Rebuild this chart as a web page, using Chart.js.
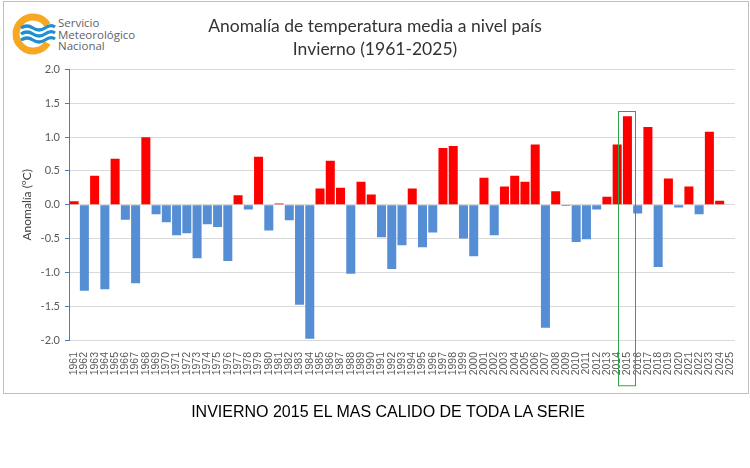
<!DOCTYPE html>
<html>
<head>
<meta charset="utf-8">
<script src="https://cdn.jsdelivr.net/npm/chart.js@4.4.1/dist/chart.umd.min.js"></script>
<style>
  body { margin: 0; background: #fff; }
  #wrap { position: relative; width: 750px; height: 468px; }
  #frame { position: absolute; left: 3px; top: 1px; width: 744px; height: 391px; border: 1px solid #bfbfbf; }
  #chart { position: absolute; left: 0; top: 0; }
  #logo { position: absolute; left: 11px; top: 12px; }
  #logoText { position: absolute; left: 58px; top: 17px; font: 11.5px 'Open Sans', sans-serif; line-height: 11.5px; color: #5f6368; }
  #caption { position: absolute; left: 0; width: 776px; top: 403px; text-align: center; font: 16px 'Liberation Sans', Arial, sans-serif; color: #000; }
</style>
</head>
<body>
<div id="wrap">
  <div id="frame"></div>
  <svg id="logo" width="46" height="44" viewBox="0 0 46 44">
    <path d="M36.5 13 A17 17 0 1 0 36.5 31" fill="none" stroke="#f7a823" stroke-width="7"/>
    <path d="M10 16 q6 -4 12 0 t12 0 t10 -1" fill="none" stroke="#1f8fd0" stroke-width="3.2"/>
    <path d="M10 22 q6 -4 12 0 t12 0 t10 -1" fill="none" stroke="#1f8fd0" stroke-width="3.2"/>
    <path d="M10 28 q6 -4 12 0 t12 0 t10 -1" fill="none" stroke="#1f8fd0" stroke-width="3.2"/>
  </svg>
  <div id="logoText">Servicio<br>Meteorológico<br>Nacional</div>
  <canvas id="chart" width="750" height="468"></canvas>
  <div id="caption">INVIERNO 2015 EL MAS CALIDO DE TODA LA SERIE</div>
</div>
<script>
const years = ['1961','1962','1963','1964','1965','1966','1967','1968','1969','1970',
  '1971','1972','1973','1974','1975','1976','1977','1978','1979','1980',
  '1981','1982','1983','1984','1985','1986','1987','1988','1989','1990',
  '1991','1992','1993','1994','1995','1996','1997','1998','1999','2000',
  '2001','2002','2003','2004','2005','2006','2007','2008','2009','2010',
  '2011','2012','2013','2014','2015','2016','2017','2018','2019','2020',
  '2021','2022','2023','2024','2025'];

const anomalia = [0.05, -1.27, 0.43, -1.25, 0.68, -0.22, -1.16, 1.00, -0.14, -0.26,
  -0.45, -0.42, -0.79, -0.29, -0.33, -0.83, 0.14, -0.07, 0.71, -0.38,
  0.02, -0.23, -1.48, -1.98, 0.24, 0.65, 0.25, -1.02, 0.34, 0.15,
  -0.48, -0.95, -0.60, 0.24, -0.63, -0.41, 0.84, 0.87, -0.50, -0.76,
  0.40, -0.45, 0.27, 0.43, 0.34, 0.89, -1.82, 0.20, -0.02, -0.55,
  -0.51, -0.07, 0.12, 0.89, 1.31, -0.13, 1.15, -0.92, 0.39, -0.04,
  0.27, -0.14, 1.08, 0.06, null];

const highlightYear = '2015';

// green box around the warmest winter
const highlight = {
  id: 'highlight',
  afterDatasetsDraw(chart) {
    const xs = chart.scales.x, ys = chart.scales.y, ctx = chart.ctx;
    const cx = xs.getPixelForValue(years.indexOf(highlightYear)) - 1;
    const half = 8.5;
    const top = ys.getPixelForValue(1.39);
    const bottom = chart.chartArea.bottom + 45;
    ctx.save();
    ctx.strokeStyle = '#2ca84a';
    ctx.lineWidth = 1;
    ctx.strokeRect(Math.round(cx - half) + 0.5, Math.round(top) + 0.5, half * 2, bottom - top);
    ctx.restore();
  }
};

new Chart(document.getElementById('chart'), {
  type: 'bar',
  data: {
    labels: years,
    datasets: [{
      data: anomalia,
      backgroundColor: ctx => (ctx.raw >= 0 ? '#ff0000' : '#558ed5'),
      barPercentage: 0.88,
      categoryPercentage: 1
    }]
  },
  options: {
    responsive: false,
    animation: false,
    layout: { padding: { left: 15, right: 15, top: 4, bottom: 88 } },
    plugins: {
      legend: { display: false },
      tooltip: { enabled: false },
      title: {
        display: true,
        text: ['Anomalía de temperatura media a nivel país', 'Invierno (1961-2025)'],
        color: '#333',
        font: { family: 'Lato', size: 17.5, weight: 'normal', lineHeight: 1.3 },
        padding: { top: 11, bottom: 9 }
      }
    },
    scales: {
      x: {
        grid: { display: false },
        border: { display: false },
        afterFit: s => { s.height = 40; },
        ticks: {
          autoSkip: false,
          maxRotation: 90,
          minRotation: 90,
          padding: 4,
          color: '#595959',
          font: { family: 'Liberation Sans', size: 10.5 }
        }
      },
      y: {
        min: -2,
        max: 2,
        afterFit: s => { s.width = 54; },
        border: { display: true, color: '#4a7ebb' },
        grid: { color: '#d9d9d9', tickColor: '#4a7ebb', tickLength: 4 },
        ticks: {
          stepSize: 0.5,
          padding: 5,
          color: '#595959',
          font: { family: 'Lato', size: 11 },
          callback: v => v.toFixed(1)
        },
        title: {
          display: true,
          text: 'Anomalía (°C)',
          color: '#404040',
          font: { family: 'Lato', size: 12 },
          padding: { top: 5, bottom: 0 }
        }
      }
    }
  },
  plugins: [highlight]
});
</script>
</body>
</html>
